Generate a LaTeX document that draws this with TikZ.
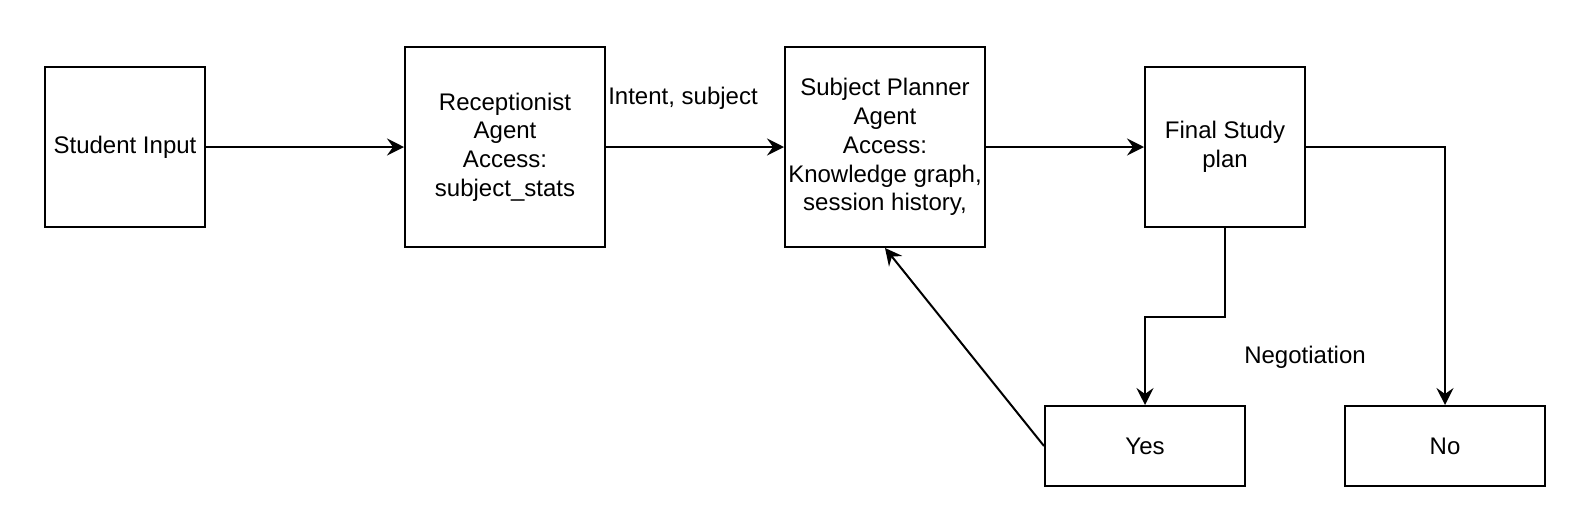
\documentclass[tikz,border=0pt]{standalone}
\usepackage{fontspec}
\setmainfont{Liberation Sans}
\usepackage{tikz}
\usetikzlibrary{shapes, arrows.meta, positioning}

\begin{document}
\begin{tikzpicture}
  [
    x=0.5pt, y=-0.5pt,
    font=\fontsize{12}{14.4}\selectfont,
    Square/.style={rectangle, draw=black, line width=1pt, align=center, inner sep=0pt, minimum width=80pt, minimum height=80pt},
    Big/.style={rectangle, draw=black, line width=1pt, align=center, inner sep=0pt, minimum width=100pt, minimum height=100pt},
    Flat/.style={rectangle, draw=black, line width=1pt, align=center, inner sep=0pt, minimum width=100pt, minimum height=40pt},
    Link/.style={-{Stealth[length=8.5pt, width=8.5pt, inset=3pt]}, draw, line width=1pt}
  ]
  \useasboundingbox (0, 0) rectangle (1578, 510);
  % Nodes
  \node[Square] (input) at(125, 147) {Student Input};
  \node[Big] (recep) at(505, 147) {Receptionist\\Agent\\Access:\\subject\_stats};
  \node[Big] (planner) at(885, 147) {Subject Planner\\Agent\\Access:\\Knowledge graph,\\session history,};
  \node[Square] (final) at(1225, 147) {Final Study\\plan};
  \node[Flat] (yes) at(1145, 446) {Yes};
  \node[Flat] (no) at(1445, 446) {No};
  \node (intent) at(683, 98) {Intent, subject};
  \node (nego) at(1305, 357) {Negotiation};
  \coordinate (bend) at(1145, 317);
  % Lines
  \path [Link] (input) -- (recep);
  \path [Link] (recep) -- (planner);
  \path [Link] (planner) -- (final);
  \path [Link] (final.south) |- (bend) -- (yes.north);
  \path [Link] (final.east) -| (no.north);
  \path [Link] (yes.west) -- (planner.south);
\end{tikzpicture}
\end{document}
